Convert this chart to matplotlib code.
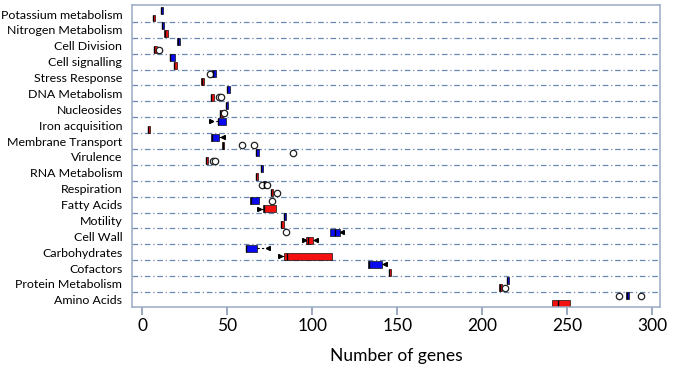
import matplotlib
matplotlib.use("Agg")
import matplotlib.pyplot as plt

categories = ["Potassium metabolism", "Nitrogen Metabolism", "Cell Division", "Cell signalling",
              "Stress Response", "DNA Metabolism", "Nucleosides", "Iron acquisition",
              "Membrane Transport", "Virulence", "RNA Metabolism", "Respiration", "Fatty Acids",
              "Motility", "Cell Wall", "Carbohydrates", "Cofactors", "Protein Metabolism",
              "Amino Acids"]

# blue series (box statistics)
blue_q1  = [10.9, 11.4, 20.7, 16.2, 41.2, 49.6, 49.1, 44.3, 40.4, 66.8, 69.6, 71.1, 63.6, 83.1, 110.4, 60.8, 132.8, 214.5, 284.7]
blue_med = [11.2, 11.7, 21.0, 16.6, 41.5, 49.9, 49.4, 44.8, 40.8, 67.1, 69.9, 71.6, 63.9, 83.4, 113.5, 61.0, 133.2, 214.8, 285.0]
blue_q3  = [12.5, 13.0, 22.2, 19.1, 43.3, 51.7, 50.5, 49.2, 44.9, 68.5, 70.9, 72.6, 68.6, 84.5, 116.2, 67.6, 141.1, 215.9, 286.4]
blue_lo  = [10.9, 11.4, 20.7, 16.2, 41.2, 49.6, 49.1, 40.4, 40.4, 66.8, 69.6, 71.1, 63.6, 83.1, 110.4, 60.8, 132.8, 214.5, 284.7]
blue_hi  = [12.5, 13.0, 22.2, 19.1, 43.3, 51.7, 50.5, 49.2, 47.8, 68.5, 70.9, 72.6, 68.6, 84.5, 117.6, 74.0, 142.8, 215.9, 286.4]
blue_fliers = [[], [], [], [], [40.0], [], [], [], [], [88.8], [], [70.4, 73.1], [76.1], [], [84.3],
               [], [], [], [280.5, 293.6]]

# red series (box statistics)
red_q1  = [6.2, 12.7, 6.9, 18.6, 34.8, 40.4, 45.7, 3.5, 47.1, 37.3, 66.9, 75.7, 71.2, 81.5, 96.4, 83.6, 144.9, 210.0, 241.2]
red_med = [6.4, 13.2, 7.2, 18.9, 35.0, 40.7, 46.0, 3.7, 47.3, 37.6, 67.2, 76.0, 71.6, 81.8, 97.3, 85.1, 145.2, 210.3, 244.5]
red_q3  = [7.7, 15.4, 8.5, 20.4, 36.1, 42.0, 47.5, 4.8, 48.4, 38.8, 68.3, 77.1, 78.8, 83.1, 100.7, 111.8, 146.4, 211.7, 251.3]
red_lo  = [6.2, 12.7, 6.9, 18.6, 34.8, 40.4, 45.7, 3.5, 47.1, 37.3, 66.9, 75.7, 68.6, 81.5, 95.4, 81.3, 144.9, 210.0, 241.2]
red_hi  = [7.7, 15.4, 8.5, 20.4, 36.1, 42.0, 47.5, 4.8, 48.4, 38.8, 68.3, 77.1, 78.8, 83.1, 102.0, 111.8, 146.4, 211.7, 251.3]
red_fliers = [[], [], [9.6], [], [], [45.4, 46.2], [48.1], [], [58.5, 65.5], [41.6, 43.1], [], [79.5],
              [], [], [], [], [], [213.1], []]

xticks = [0, 50, 100, 150, 200, 250, 300]
xlabel = "Number of genes"

plt.rcParams["font.family"] = ["Lato", "DejaVu Sans"]

fig = plt.figure(figsize=(6.8, 3.72), dpi=100)
ax = fig.add_axes([0.1941, 0.1747, 0.7765, 0.8119])

n = len(categories)


def stats_for(q1, med, q3, lo, hi, fl):
    return [dict(q1=q1[i], med=med[i], q3=q3[i], whislo=lo[i], whishi=hi[i], fliers=fl[i])
            for i in range(len(q1))]


def draw(stats, offset, color):
    pos = [i + offset for i in range(n)]
    res = ax.bxp(stats, positions=pos, widths=0.44, orientation="horizontal", patch_artist=True,
                 showcaps=True, capwidths=0.0,
                 boxprops=dict(facecolor=color, edgecolor="#111111", linewidth=0.5),
                 medianprops=dict(color="black", linewidth=1.0, solid_capstyle="butt"),
                 whiskerprops=dict(color="black", linewidth=0.8, linestyle=(0, (2.0, 2.0))),
                 capprops=dict(color="black", linewidth=0),
                 flierprops=dict(marker="o", markerfacecolor="white", markeredgecolor="#222222",
                                 markersize=4.6, markeredgewidth=0.9, linestyle="none"))
    for i, st in enumerate(stats):
        cap_lo = res["caps"][2 * i]
        cap_hi = res["caps"][2 * i + 1]
        if st["whislo"] < st["q1"]:
            cap_lo.set(marker=">", markersize=2.6, markerfacecolor="black", markeredgecolor="black")
        else:
            cap_lo.set_visible(False)
        if st["whishi"] > st["q3"]:
            cap_hi.set(marker="<", markersize=2.6, markerfacecolor="black", markeredgecolor="black")
        else:
            cap_hi.set_visible(False)
    return res


draw(stats_for(blue_q1, blue_med, blue_q3, blue_lo, blue_hi, blue_fliers), -0.25, "#0a0af0")
draw(stats_for(red_q1, red_med, red_q3, red_lo, red_hi, red_fliers), 0.25, "#f21010")

# dash-dot separators between categories
for i in range(n - 1):
    ax.axhline(i + 0.5, color="#6a88b4", linewidth=0.9, linestyle=(0, (4.5, 2.2, 1, 2.2)), zorder=0)

ax.set_xlim(-6.0, 304.5)
ax.set_ylim(n - 1 + 0.45, -0.57)

ax.set_yticks(range(n))
ax.set_yticklabels(categories, fontsize=8.9)
ax.tick_params(axis="y", length=0, pad=7)

ax.set_xticks(xticks)
ax.set_xticklabels([str(t) for t in xticks], fontsize=12.5)
ax.tick_params(axis="x", direction="out", length=6, width=1.2, color="#8a9ab5", pad=2)

for s in ax.spines.values():
    s.set_color("#9aaac2")
    s.set_linewidth(1.1)

ax.set_xlabel(xlabel, fontsize=12.5, labelpad=10)

fig.savefig("out.png", dpi=100)
